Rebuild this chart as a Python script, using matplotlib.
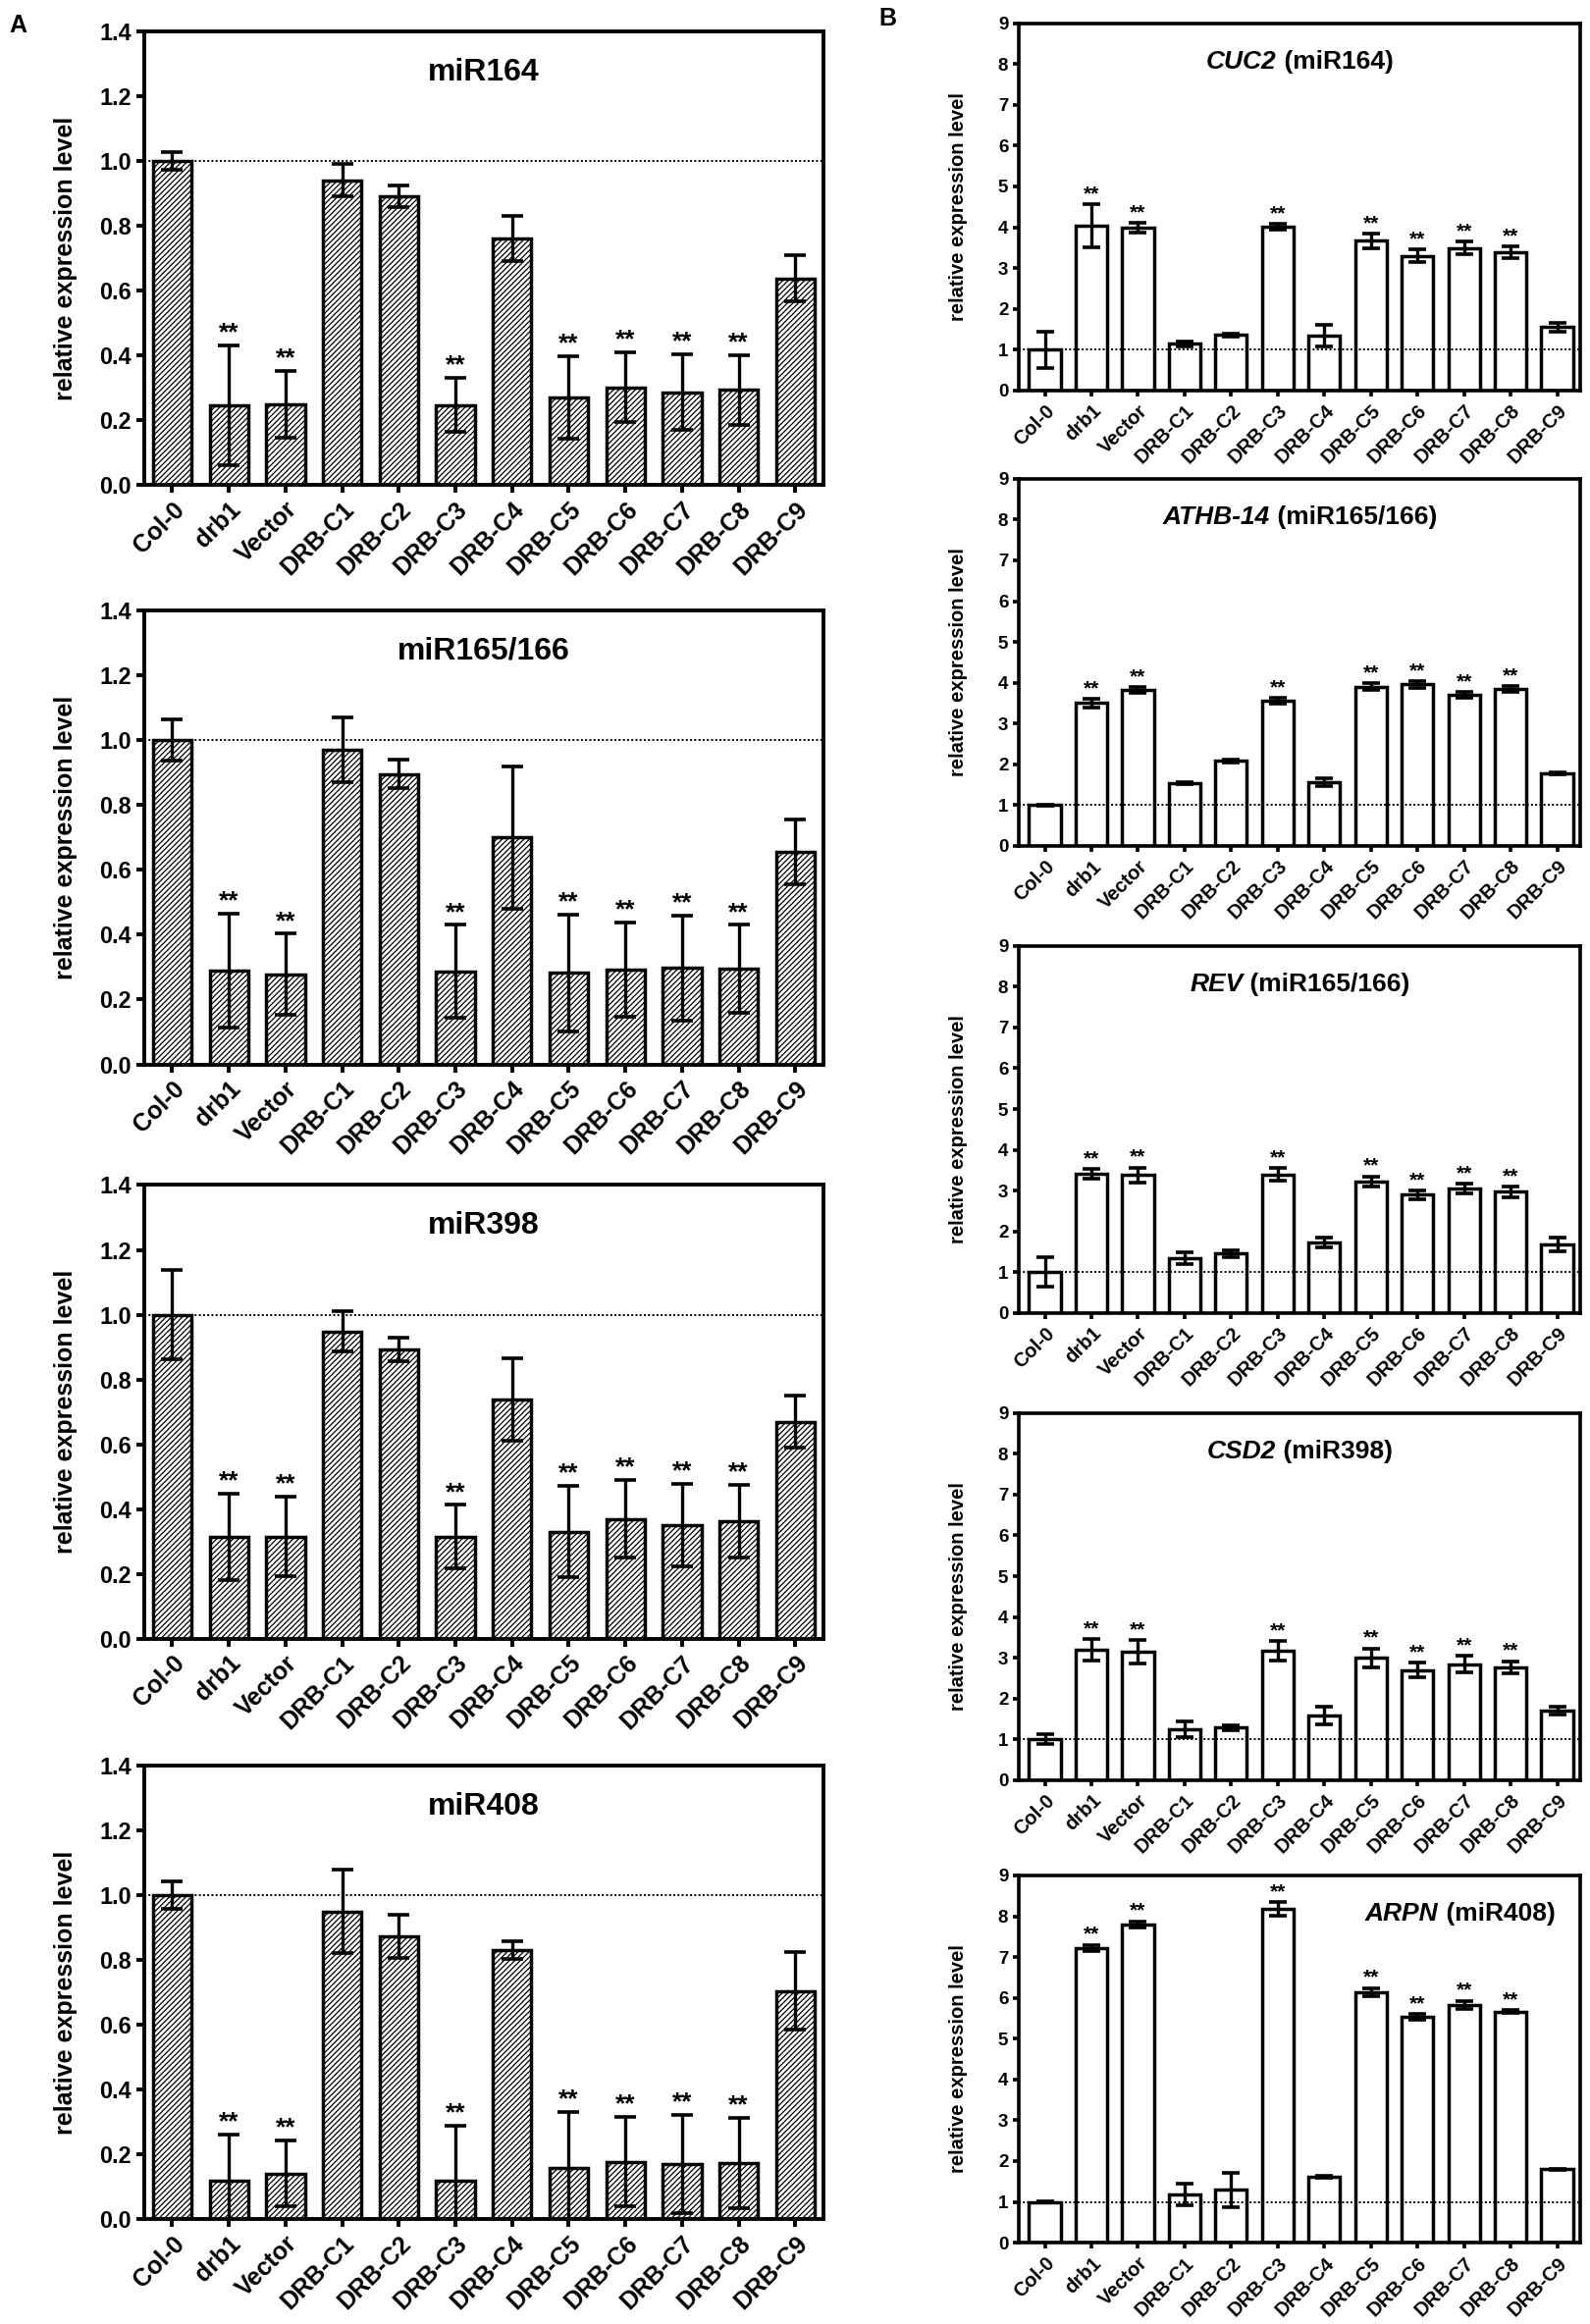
import numpy as np
import matplotlib.pyplot as plt

plt.rcParams['font.family'] = ['Liberation Sans', 'DejaVu Sans']
plt.rcParams['font.weight'] = 'bold'
plt.rcParams['hatch.linewidth'] = 0.9

lines = ['Col-0', 'drb1', 'Vector', 'DRB-C1', 'DRB-C2', 'DRB-C3', 'DRB-C4',
         'DRB-C5', 'DRB-C6', 'DRB-C7', 'DRB-C8', 'DRB-C9']
star_idx = [1, 2, 5, 7, 8, 9, 10]

# panel A: miRNA levels
mir164 = [1.00, 0.247, 0.249, 0.94, 0.891, 0.248, 0.761, 0.271, 0.302, 0.287, 0.294, 0.638]
mir164_err = [0.027, 0.185, 0.103, 0.05, 0.033, 0.084, 0.07, 0.128, 0.108, 0.116, 0.107, 0.072]
mir165 = [1.00, 0.29, 0.278, 0.969, 0.896, 0.287, 0.70, 0.282, 0.292, 0.297, 0.294, 0.655]
mir165_err = [0.064, 0.176, 0.125, 0.10, 0.045, 0.143, 0.22, 0.18, 0.146, 0.163, 0.136, 0.10]
mir398 = [1.00, 0.314, 0.316, 0.948, 0.893, 0.315, 0.738, 0.331, 0.37, 0.351, 0.362, 0.67]
mir398_err = [0.138, 0.134, 0.122, 0.062, 0.036, 0.098, 0.128, 0.142, 0.12, 0.128, 0.112, 0.08]
mir408 = [1.00, 0.12, 0.142, 0.95, 0.874, 0.12, 0.831, 0.16, 0.178, 0.171, 0.174, 0.705]
mir408_err = [0.043, 0.142, 0.102, 0.129, 0.067, 0.168, 0.026, 0.171, 0.138, 0.151, 0.14, 0.12]

# panel B: target transcripts
cuc2 = [1.00, 4.03, 3.99, 1.14, 1.355, 4.01, 1.34, 3.67, 3.30, 3.49, 3.38, 1.55]
cuc2_err = [0.44, 0.53, 0.12, 0.06, 0.03, 0.08, 0.27, 0.18, 0.15, 0.16, 0.14, 0.11]
athb14 = [1.00, 3.50, 3.82, 1.54, 2.085, 3.56, 1.56, 3.90, 3.96, 3.70, 3.85, 1.78]
athb14_err = [0.01, 0.11, 0.07, 0.03, 0.04, 0.07, 0.09, 0.08, 0.08, 0.07, 0.07, 0.03]
rev = [1.00, 3.41, 3.38, 1.34, 1.46, 3.40, 1.72, 3.22, 2.90, 3.05, 2.97, 1.68]
rev_err = [0.36, 0.12, 0.19, 0.14, 0.08, 0.16, 0.12, 0.13, 0.10, 0.12, 0.13, 0.17]
csd2 = [1.00, 3.19, 3.15, 1.24, 1.29, 3.165, 1.59, 3.00, 2.70, 2.845, 2.765, 1.70]
csd2_err = [0.12, 0.27, 0.29, 0.19, 0.06, 0.24, 0.21, 0.23, 0.18, 0.20, 0.15, 0.09]
arpn = [1.00, 7.22, 7.80, 1.18, 1.29, 8.18, 1.62, 6.14, 5.54, 5.83, 5.66, 1.80]
arpn_err = [0.01, 0.08, 0.08, 0.26, 0.43, 0.16, 0.03, 0.10, 0.07, 0.10, 0.04, 0.01]

panels_a = [('miR164', mir164, mir164_err),
            ('miR165/166', mir165, mir165_err),
            ('miR398', mir398, mir398_err),
            ('miR408', mir408, mir408_err)]
panels_b = [('CUC2', ' (miR164)', cuc2, cuc2_err),
            ('ATHB-14', ' (miR165/166)', athb14, athb14_err),
            ('REV', ' (miR165/166)', rev, rev_err),
            ('CSD2', ' (miR398)', csd2, csd2_err),
            ('ARPN', ' (miR408)', arpn, arpn_err)]

fig = plt.figure(figsize=(16.2, 23.68), dpi=100)
x = np.arange(len(lines))


def style_axes(ax, lw, fs, xfs, ticklen):
    for sp in ax.spines.values():
        sp.set_linewidth(lw)
    ax.tick_params(axis='both', direction='out', length=ticklen, width=lw,
                   labelsize=fs, right=False, top=False)
    ax.set_xticks(x)
    ax.set_xticklabels(lines, rotation=45, ha='right', rotation_mode='anchor',
                       fontweight='bold', fontsize=xfs)
    for lab in ax.get_yticklabels():
        lab.set_fontweight('bold')


def draw_bars(ax, vals, errs, hatch, capsize, star_fs, star_off):
    ax.bar(x, vals, width=0.68, color='white', edgecolor='black',
           linewidth=2.5, hatch=hatch, zorder=2)
    ax.errorbar(x, vals, yerr=errs, fmt='none', ecolor='black',
                elinewidth=2.4, capsize=capsize, capthick=2.6, zorder=4)
    ax.axhline(1.0, color='black', linestyle=(0, (1, 1.2)), linewidth=1.4, zorder=5)
    vals = np.array(vals)
    errs = np.array(errs)
    for i in star_idx:
        ax.annotate('**', xy=(i, vals[i] + errs[i]), xytext=(0, star_off),
                    textcoords='offset points', ha='center', va='baseline',
                    fontsize=star_fs, fontweight='bold')


# panel A
a_bottoms = [0.7912, 0.5420, 0.2948, 0.0450]
for (title, vals, errs), b in zip(panels_a, a_bottoms):
    ax = fig.add_axes([0.0905, b, 0.4275, 0.1953])
    draw_bars(ax, vals, errs, '//////', 8, 19, 4)
    ax.set_xlim(-0.5, 11.5)
    ax.set_ylim(0, 1.4)
    ax.set_yticks(np.arange(0, 1.41, 0.2))
    ax.set_yticklabels([f'{v:.1f}' for v in np.arange(0, 1.41, 0.2)])
    style_axes(ax, 2.8, 16.8, 18, 5.5)
    ax.set_ylabel('relative expression level', fontsize=18, fontweight='bold')
    ax.yaxis.set_label_coords(-0.097, 0.5)
    ax.text(0.5, 0.91, title, transform=ax.transAxes, ha='center', va='center',
            fontsize=23, fontweight='bold')

# panel B
renderer = fig.canvas.get_renderer()
b_bottoms = [0.832, 0.636, 0.435, 0.234, 0.035]
for (gene, mir, vals, errs), b in zip(panels_b, b_bottoms):
    ax = fig.add_axes([0.641, b, 0.353, 0.158])
    draw_bars(ax, vals, errs, None, 6.5, 15, 3.5)
    ax.set_xlim(-0.55, 11.5)
    ax.set_ylim(0, 9)
    ax.set_yticks(range(10))
    style_axes(ax, 2.6, 13.5, 14.5, 4.5)
    ax.set_ylabel('relative expression level', fontsize=14.5, fontweight='bold')
    ax.yaxis.set_label_coords(-0.092, 0.5)

    t1 = ax.text(0, 0.895, gene, transform=ax.transAxes, ha='left', va='center',
                 fontsize=19, fontweight='bold', fontstyle='italic')
    t2 = ax.text(0, 0.895, mir, transform=ax.transAxes, ha='left', va='center',
                 fontsize=19, fontweight='bold')
    axw = ax.get_window_extent(renderer).width
    w1 = t1.get_window_extent(renderer).width / axw
    w2 = t2.get_window_extent(renderer).width / axw
    if gene == 'ARPN':
        left = 0.955 - (w1 + w2)
    else:
        left = 0.5 - (w1 + w2) / 2
    t1.set_x(left)
    t2.set_x(left + w1)

fig.text(0.006, 0.989, 'A', fontsize=18, fontweight='bold', ha='left', va='center')
fig.text(0.553, 0.992, 'B', fontsize=18, fontweight='bold', ha='left', va='center')

fig.savefig('out.png', dpi=100)
